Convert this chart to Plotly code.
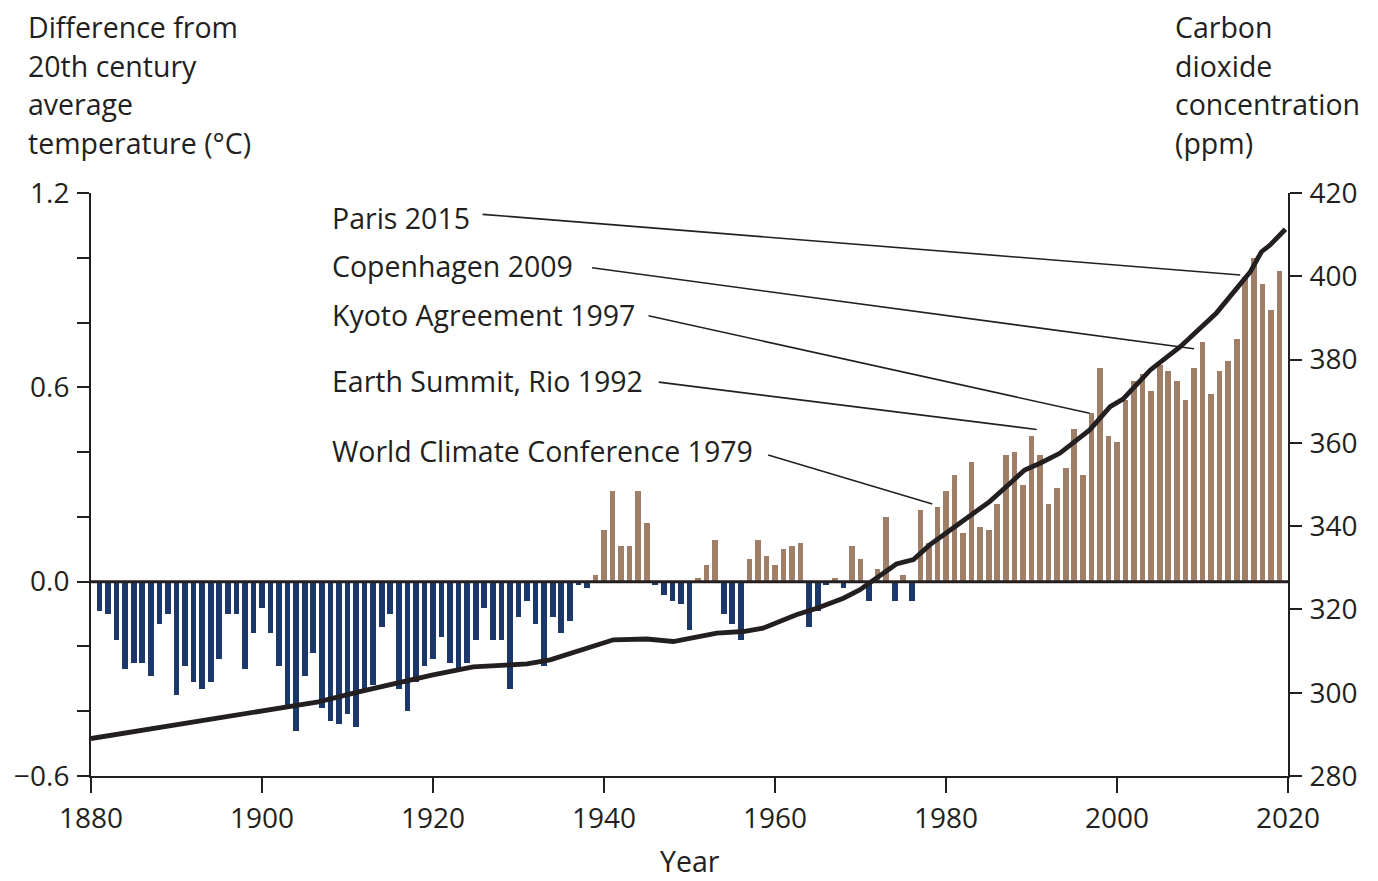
import plotly.graph_objects as go

# ---------------- data ----------------
years = list(range(1881, 2020))
temp_anomaly = [
    -0.09, -0.10, -0.18, -0.27, -0.25, -0.25, -0.29, -0.13, -0.10, -0.35,   # 1881-1890
    -0.26, -0.31, -0.33, -0.31, -0.24, -0.10, -0.10, -0.27, -0.16, -0.08,   # 1891-1900
    -0.16, -0.26, -0.39, -0.46, -0.29, -0.22, -0.39, -0.43, -0.44, -0.41,   # 1901-1910
    -0.45, -0.34, -0.32, -0.14, -0.10, -0.33, -0.40, -0.31, -0.26, -0.24,   # 1911-1920
    -0.17, -0.25, -0.27, -0.25, -0.18, -0.08, -0.18, -0.18, -0.33, -0.11,   # 1921-1930
    -0.06, -0.13, -0.26, -0.11, -0.16, -0.12, -0.01, -0.02, 0.02, 0.16,     # 1931-1940
    0.28, 0.11, 0.11, 0.28, 0.18, -0.01, -0.04, -0.06, -0.07, -0.15,        # 1941-1950
    0.01, 0.05, 0.13, -0.10, -0.13, -0.18, 0.07, 0.13, 0.08, 0.05,          # 1951-1960
    0.10, 0.11, 0.12, -0.14, -0.09, -0.01, 0.01, -0.02, 0.11, 0.07,         # 1961-1970
    -0.06, 0.04, 0.20, -0.06, 0.02, -0.06, 0.22, 0.12, 0.23, 0.28,          # 1971-1980
    0.33, 0.15, 0.37, 0.17, 0.16, 0.24, 0.39, 0.40, 0.30, 0.45,             # 1981-1990
    0.39, 0.24, 0.29, 0.35, 0.47, 0.33, 0.52, 0.66, 0.45, 0.43,             # 1991-2000
    0.56, 0.62, 0.64, 0.59, 0.67, 0.65, 0.62, 0.56, 0.66, 0.74,             # 2001-2010
    0.58, 0.65, 0.68, 0.75, 0.94, 1.00, 0.92, 0.84, 0.96,                   # 2011-2019
]

co2_years = [1880, 1893.7, 1903.1, 1906.6, 1911.3, 1920.0, 1924.7, 1931.0, 1933.7,
             1941.1, 1945.0, 1948.1, 1953.2, 1956.3, 1958.6, 1962.5, 1964.9, 1968.0,
             1969.9, 1972.3, 1974.2, 1976.2, 1978.1, 1981.6, 1985.1, 1987.5, 1989.2,
             1991.0, 1993.3, 1996.8, 1999.2, 2000.7, 2003.9, 2007.4, 2011.6, 2014.0,
             2015.6, 2016.9, 2017.9, 2019.7]
co2_ppm = [289.0, 293.4, 296.6, 297.8, 300.2, 304.3, 306.2, 306.9, 307.9,
           312.7, 312.9, 312.3, 314.3, 314.7, 315.5, 318.7, 320.3, 322.7,
           324.7, 328.3, 330.9, 332.0, 335.5, 340.7, 345.9, 350.3, 353.5,
           355.1, 357.5, 363.1, 368.7, 370.5, 377.5, 383.1, 391.1, 397.1,
           401.1, 405.9, 407.5, 411.3]

# annotation labels and their leader lines (start -> end), in year / °C units
event_labels = ["Paris 2015", "Copenhagen 2009", "Kyoto Agreement 1997",
                "Earth Summit, Rio 1992", "World Climate Conference 1979"]
label_y = [1.124, 0.976, 0.822, 0.621, 0.403]
leader_x0 = [1925.8, 1938.6, 1945.2, 1946.4, 1959.2]
leader_y0 = [1.134, 0.969, 0.821, 0.616, 0.391]
leader_x1 = [2014.4, 2009.0, 1996.8, 1990.6, 1978.4]
leader_y1 = [0.947, 0.719, 0.520, 0.470, 0.240]
label_x = 1907.9

x_ticks = list(range(1880, 2021, 20))
left_tickvals = [-0.6, -0.4, -0.2, 0.0, 0.2, 0.4, 0.6, 0.8, 1.0, 1.2]
left_ticktext = ["\u22120.6", "", "", "0.0", "", "", "0.6", "", "", "1.2"]
right_tickvals = list(range(280, 421, 20))

left_title = ["Difference from", "20th century", "average", "temperature (\u00b0C)"]
right_title = ["Carbon", "dioxide", "concentration", "(ppm)"]

# ---------------- styling ----------------
INK = "#231f20"
BLUE = "#1c3769"
BROWN = "#a07f68"
FONT = "Open Sans"
FS = 28
FS_TXT = 28.5

W, H = 1378, 881
L, R, T, B = 91, 1288, 193, 776


def px_x(px):
    return (px - L) / (R - L)


def px_y(py):
    return (B - py) / (B - T)


bar_colors = [BROWN if v > 0 else BLUE for v in temp_anomaly]

fig = go.Figure()
fig.add_trace(go.Bar(x=years, y=temp_anomaly, width=0.66,
                     marker=dict(color=bar_colors, line=dict(width=0)),
                     yaxis="y", showlegend=False, hoverinfo="x+y"))
fig.add_trace(go.Scatter(x=[1880, 2020], y=[0, 0], mode="lines",
                         line=dict(color=INK, width=3), yaxis="y",
                         showlegend=False, hoverinfo="skip"))
fig.add_trace(go.Scatter(x=co2_years, y=co2_ppm, mode="lines",
                         line=dict(color=INK, width=4.8), yaxis="y2",
                         showlegend=False))

shapes = []
annotations = []
for lab, ly, x0, y0, x1, y1 in zip(event_labels, label_y, leader_x0, leader_y0,
                                   leader_x1, leader_y1):
    shapes.append(dict(type="line", xref="x", yref="y", x0=x0, y0=y0, x1=x1, y1=y1,
                       line=dict(color=INK, width=1.6), layer="above"))
    annotations.append(dict(x=label_x, y=ly, xref="x", yref="y", text=lab,
                            showarrow=False, xanchor="left", yanchor="middle",
                            font=dict(family=FONT, size=FS_TXT, color=INK)))

title_line_y = [27, 65.5, 104, 142.5]
for txt, py in zip(left_title, title_line_y):
    annotations.append(dict(x=px_x(26), y=px_y(py), xref="paper", yref="paper",
                            text=txt, showarrow=False, xanchor="left",
                            yanchor="middle",
                            font=dict(family=FONT, size=FS_TXT, color=INK)))
for txt, py in zip(right_title, title_line_y):
    annotations.append(dict(x=px_x(1173), y=px_y(py), xref="paper", yref="paper",
                            text=txt, showarrow=False, xanchor="left",
                            yanchor="middle",
                            font=dict(family=FONT, size=FS_TXT, color=INK)))
annotations.append(dict(x=px_x(690), y=px_y(861), xref="paper", yref="paper",
                        text="Year", showarrow=False, xanchor="center",
                        yanchor="middle", font=dict(family=FONT, size=FS_TXT, color=INK)))

axis_common = dict(showgrid=False, showline=True, linecolor=INK, linewidth=2,
                   ticks="outside", tickcolor=INK, tickwidth=2, automargin=False,
                   tickfont=dict(family=FONT, size=FS, color=INK))

fig.update_layout(
    width=W, height=H,
    margin=dict(l=L, r=W - R, t=T, b=H - B, pad=0, autoexpand=False),
    paper_bgcolor="white", plot_bgcolor="white",
    bargap=0,
    xaxis=dict(range=[1880, 2020], tickvals=x_ticks, ticklen=15, zeroline=False,
               ticklabelstandoff=1, **axis_common),
    yaxis=dict(range=[-0.6, 1.2], tickvals=left_tickvals, ticktext=left_ticktext,
               ticklen=12, zeroline=False, ticklabelstandoff=2, **axis_common),
    yaxis2=dict(range=[280, 420], tickvals=right_tickvals, overlaying="y",
                side="right", ticklen=12, zeroline=False, ticklabelstandoff=2,
                **axis_common),
    shapes=shapes,
    annotations=annotations,
    font=dict(family=FONT, color=INK),
)

fig.write_html(
    "out.html",
    config={"displayModeBar": False},
    post_script="document.body.style.margin='0px';document.body.style.overflow='hidden';",
)
